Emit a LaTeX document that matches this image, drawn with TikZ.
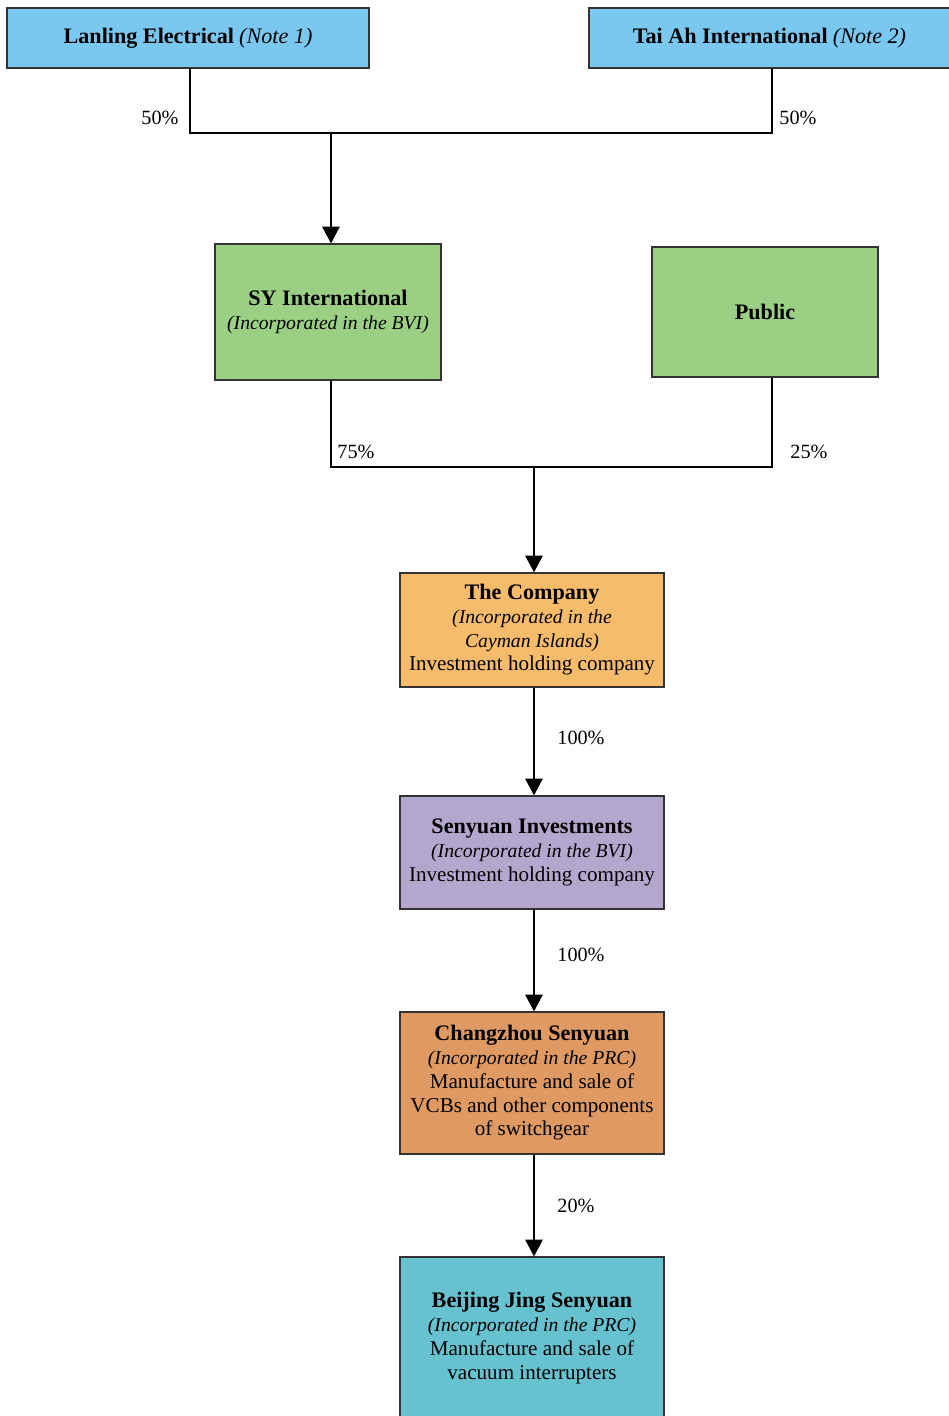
\documentclass[tikz,border=0pt]{standalone}
\usepackage{fontspec}
\setmainfont{Liberation Serif}
\usepackage{tikz}
\usetikzlibrary{arrows.meta,positioning}
\definecolor{topblue}{RGB}{122,200,240}
\definecolor{midgreen}{RGB}{155,207,132}
\definecolor{coorange}{RGB}{246,187,107}
\definecolor{invpurple}{RGB}{180,167,206}
\definecolor{czbrown}{RGB}{223,153,98}
\definecolor{bjteal}{RGB}{103,194,208}
\newcommand{\ename}[1]{{\fontsize{12.6}{13.5}\selectfont\bfseries #1}}
\newcommand{\enote}[1]{{\fontsize{12.6}{13.5}\selectfont\itshape #1}}
\newcommand{\einc}[1]{{\fontsize{11.2}{13.5}\selectfont\itshape #1}}
\tikzstyle{entity}=[draw=black!80,thick,align=center,inner sep=2pt,
                font=\fontsize{12}{13.5}\selectfont]
\tikzstyle{pct}=[font=\fontsize{11.5}{13}\selectfont,inner sep=1pt]
\tikzstyle{link}=[draw=black,semithick]
\tikzstyle{hold}=[link,-{Triangle[width=10pt,length=9.5pt]}]

\begin{document}
\begin{tikzpicture}[x=0.02cm,y=-0.02cm]
\useasboundingbox (0,0) rectangle (948,1416);
% shareholders
\node [entity,fill=topblue,minimum width=7.24cm,minimum height=1.2cm] (lanling) at (188,38)
  {\ename{Lanling Electrical} \enote{(Note 1)}};
\node [entity,fill=topblue,minimum width=7.22cm,minimum height=1.2cm] (taiah) at (769.5,38)
  {\ename{Tai Ah International} \enote{(Note 2)}};
\node [entity,fill=midgreen,minimum width=4.52cm,minimum height=2.72cm] (sy) at (328,312)
  {\ename{SY International}\\ \einc{(Incorporated in the BVI)}};
\node [entity,fill=midgreen,minimum width=4.52cm,minimum height=2.6cm] (public) at (765,312)
  {\ename{Public}};
% group
\node [entity,fill=coorange,minimum width=5.28cm,minimum height=2.28cm] (company) at (532,630)
  {\ename{The Company}\\ \einc{(Incorporated in the}\\ \einc{Cayman Islands)}\\ Investment holding company};
\node [entity,fill=invpurple,minimum width=5.28cm,minimum height=2.26cm] (senyuan) at (532,852.5)
  {\ename{Senyuan Investments}\\ \einc{(Incorporated in the BVI)}\\ Investment holding company};
\node [entity,fill=czbrown,minimum width=5.28cm,minimum height=2.84cm] (changzhou) at (532,1083)
  {\ename{Changzhou Senyuan}\\ \einc{(Incorporated in the PRC)}\\ Manufacture and sale of\\ VCBs and other components\\ of switchgear};
\node [entity,fill=bjteal,minimum width=5.28cm,minimum height=3.24cm] (beijing) at (532,1338)
  {\ename{Beijing Jing Senyuan}\\ \einc{(Incorporated in the PRC)}\\ Manufacture and sale of\\ vacuum interrupters};

% ownership lines
\coordinate (join1) at (331,133);
\coordinate (join2) at (534,467);
\path [link] ([xshift=0.04cm]lanling.south) |- ([xshift=0.05cm]taiah.south |- join1)
  -- ([xshift=0.05cm]taiah.south);
\path [hold] (join1) -- (join1 |- sy.north);
\path [link] ([xshift=0.06cm]sy.south) |- ([xshift=0.14cm]public.south |- join2)
  -- ([xshift=0.14cm]public.south);
\path [hold] (join2) -- (join2 |- company.north);
\path [hold] (company.south -| join2) -- (join2 |- senyuan.north);
\path [hold] (senyuan.south -| join2) -- (join2 |- changzhou.north);
\path [hold] (changzhou.south -| join2) -- (join2 |- beijing.north);

% percentages
\node [pct] (p1) at (160,118) {50\%};
\node [pct] (p2) at (798,118) {50\%};
\node [pct] (p3) at (356,452) {75\%};
\node [pct] (p4) at (809,452) {25\%};
\node [pct] (p5) at (581,738) {100\%};
\node [pct] (p6) at (581,955) {100\%};
\node [pct] (p7) at (576,1206) {20\%};
\end{tikzpicture}
\end{document}
